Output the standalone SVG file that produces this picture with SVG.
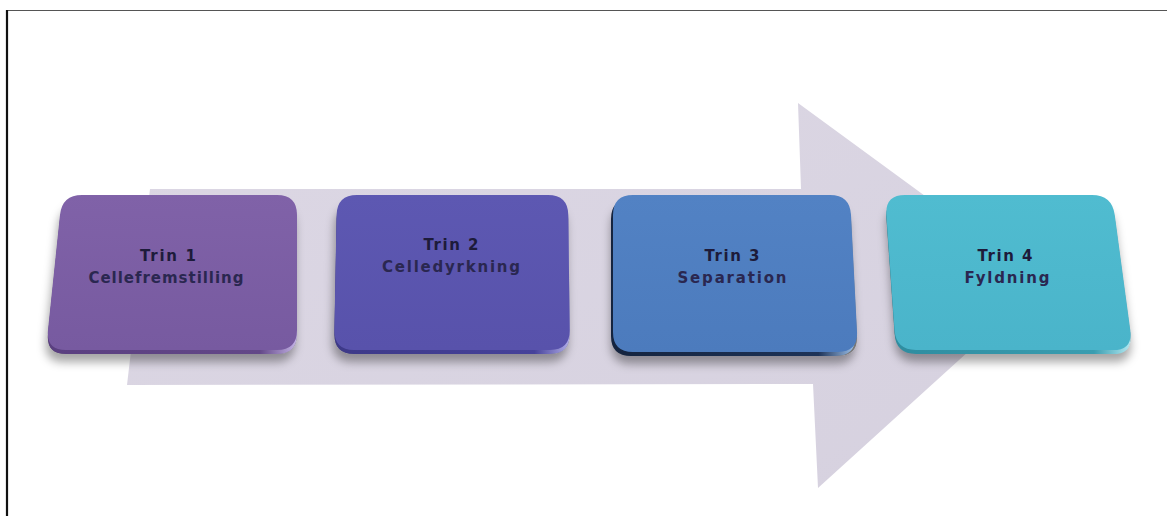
<svg xmlns="http://www.w3.org/2000/svg" width="1167" height="516" viewBox="0 0 1167 516">
<defs>
<style>
.t1{font-family:"DejaVu Sans","Liberation Sans",sans-serif;font-weight:bold;font-size:15px;fill:#1d1b3a;text-anchor:middle}
.t2{font-family:"DejaVu Sans","Liberation Sans",sans-serif;font-weight:bold;font-size:15px;fill:#2a2750;text-anchor:middle}
</style>
<filter id="sh" x="-20%" y="-20%" width="140%" height="160%">
<feDropShadow dx="-2" dy="8" stdDeviation="5" flood-color="#000" flood-opacity="0.35"/>
</filter>
<filter id="sh4" x="-20%" y="-20%" width="140%" height="160%">
<feDropShadow dx="0" dy="9" stdDeviation="5" flood-color="#000" flood-opacity="0.35"/>
</filter>
<linearGradient id="arrowFill" x1="0" y1="0" x2="1" y2="1">
<stop offset="0" stop-color="#dcd7e4"/>
<stop offset="1" stop-color="#d6d1df"/>
</linearGradient>
<linearGradient id="s1" x1="0" y1="0" x2="1" y2="0"><stop offset="0" stop-color="#5a3f80"/><stop offset="0.85" stop-color="#634888"/><stop offset="1" stop-color="#c4b3e6"/></linearGradient>
<linearGradient id="s2" x1="0" y1="0" x2="1" y2="0"><stop offset="0" stop-color="#3d3988"/><stop offset="0.85" stop-color="#46429a"/><stop offset="1" stop-color="#b0ace8"/></linearGradient>
<linearGradient id="s3" x1="0" y1="0" x2="1" y2="0"><stop offset="0" stop-color="#15243f"/><stop offset="0.85" stop-color="#1d3358"/><stop offset="1" stop-color="#9ec2ec"/></linearGradient>
<linearGradient id="s4" x1="0" y1="0" x2="1" y2="0"><stop offset="0" stop-color="#2e8c9f"/><stop offset="0.85" stop-color="#3a9db0"/><stop offset="1" stop-color="#b2e8f1"/></linearGradient>
<linearGradient id="f1" x1="0" y1="0" x2="0" y2="1"><stop offset="0" stop-color="#8062a8"/><stop offset="1" stop-color="#775aa0"/></linearGradient>
<linearGradient id="f2" x1="0" y1="0" x2="0" y2="1"><stop offset="0" stop-color="#5d58b2"/><stop offset="1" stop-color="#5852ab"/></linearGradient>
<linearGradient id="f3" x1="0" y1="0" x2="0" y2="1"><stop offset="0" stop-color="#5282c4"/><stop offset="1" stop-color="#4c7bbd"/></linearGradient>
<linearGradient id="f4" x1="0" y1="0" x2="0" y2="1"><stop offset="0" stop-color="#50bcd0"/><stop offset="1" stop-color="#4ab4ca"/></linearGradient>
<path id="p1" d="M82,195 L277,195 Q297,195 297,215 L297,330 Q297,350 277,350 L66,350 Q46,350 48,330 L60,215 Q62,195 82,195 Z"/>
<path id="p2" d="M357,195 L548,195 Q568,195 568.3,215 L569.7,330 Q570,350 550,350 L354,350 Q334,350 334.4,330 L336.6,215 Q337,195 357,195 Z"/>
<path id="p3" d="M633,195 L830,195 Q850,195 851,215 L857,332 Q858,352 838,352 L633,352 Q613,352 613,332 L613,215 Q613,195 633,195 Z"/>
<path id="p4" d="M905,195 L1092,195 Q1112,195 1114.7,214.8 L1130.3,330.2 Q1133,350 1113,350 L916,350 Q896,350 894.6,330.1 L886.4,214.9 Q885,195 905,195 Z"/>
</defs>
<rect x="0" y="0" width="1167" height="516" fill="#ffffff"/>
<g id="frame">
<line x1="6" y1="10.5" x2="1167" y2="10.5" stroke="#555555" stroke-width="1.2"/>
<line x1="7" y1="10" x2="7" y2="516" stroke="#111111" stroke-width="2.2"/>
</g>
<g id="connectors">
<polygon id="process-arrow" points="150,189 801,189 798,103 1044,283 818,488 813,384 127,385" fill="url(#arrowFill)"/>
</g>
<g id="step1">
<use href="#p1" fill="#777" filter="url(#sh)" transform="translate(0,4)"/>
<use href="#p1" fill="url(#s1)" transform="translate(0,4)"/>
<use href="#p1" fill="url(#f1)"/>
<text class="t1" x="168" y="261" textLength="56" lengthAdjust="spacing">Trin 1</text>
<text class="t2" x="166" y="283" textLength="155" lengthAdjust="spacing">Cellefremstilling</text>
</g>
<g id="step2">
<use href="#p2" fill="#777" filter="url(#sh)" transform="translate(0,4)"/>
<use href="#p2" fill="url(#s2)" transform="translate(0,4)"/>
<use href="#p2" fill="url(#f2)"/>
<text class="t1" x="451" y="250" textLength="55" lengthAdjust="spacing">Trin 2</text>
<text class="t2" x="451" y="272" textLength="138" lengthAdjust="spacing">Celledyrkning</text>
</g>
<g id="step3">
<use href="#p3" fill="#777" filter="url(#sh)" transform="translate(0,4)"/>
<use href="#p3" fill="url(#s3)" transform="translate(-2,4)"/>
<use href="#p3" fill="url(#f3)"/>
<text class="t1" x="732" y="261" textLength="55" lengthAdjust="spacing">Trin 3</text>
<text class="t2" x="732" y="283" textLength="109" lengthAdjust="spacing">Separation</text>
</g>
<g id="step4">
<use href="#p4" fill="#777" filter="url(#sh4)" transform="translate(0,3)"/>
<use href="#p4" fill="url(#s4)" transform="translate(0,4)"/>
<use href="#p4" fill="url(#f4)"/>
<text class="t1" x="1005" y="261" textLength="55" lengthAdjust="spacing">Trin 4</text>
<text class="t2" x="1007" y="283" textLength="85" lengthAdjust="spacing">Fyldning</text>
</g>
</svg>
